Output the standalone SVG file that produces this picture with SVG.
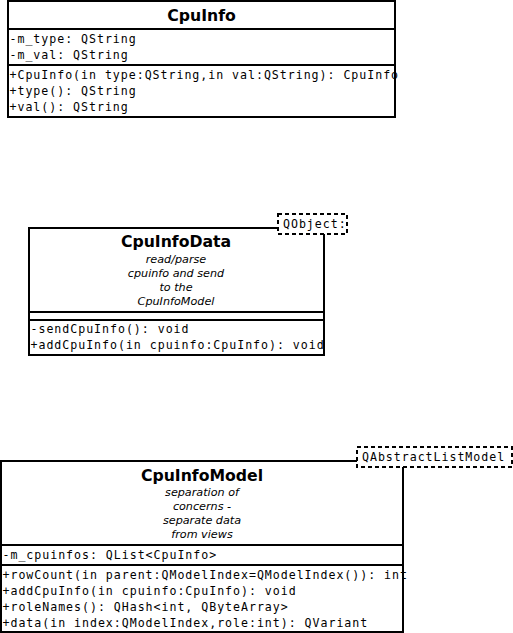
<svg xmlns="http://www.w3.org/2000/svg" width="513" height="633" viewBox="0 0 513 633">
<style>
.box{fill:#fff;stroke:#000;stroke-width:2}
.div{stroke:#000;stroke-width:2;fill:none}
.tpl{fill:#fff;stroke:#000;stroke-width:2;stroke-dasharray:4,3}
.title{font-family:"DejaVu Sans",sans-serif;font-weight:bold;font-size:15.7px;text-anchor:middle;fill:#000}
.note{font-family:"DejaVu Sans",sans-serif;font-style:italic;font-size:11.2px;text-anchor:middle;fill:#000}
.mono{font-family:"DejaVu Sans Mono",monospace;font-size:11.6px;letter-spacing:0.97px;fill:#000}
</style>
<rect width="513" height="633" fill="#fff"/>
<g id="CpuInfo">
<rect class="box" x="8" y="1" width="387" height="116"/>
<line class="div" x1="8" y1="29" x2="395" y2="29"/>
<line class="div" x1="8" y1="65" x2="395" y2="65"/>
<text class="title" x="201.5" y="21">CpuInfo</text>
<text class="mono" x="9.5" y="42.5">-m_type: QString</text>
<text class="mono" x="9.5" y="58.5">-m_val: QString</text>
<text class="mono" x="9.5" y="78.5">+CpuInfo(in type:QString,in val:QString): CpuInfo</text>
<text class="mono" x="9.5" y="94.5">+type(): QString</text>
<text class="mono" x="9.5" y="110.5">+val(): QString</text>
</g>
<g id="CpuInfoData">
<rect class="box" x="29" y="228" width="295" height="127"/>
<line class="div" x1="29" y1="312" x2="324" y2="312"/>
<line class="div" x1="29" y1="320" x2="324" y2="320"/>
<text class="title" x="176" y="247">CpuInfoData</text>
<text class="note" x="176" y="263">read/parse</text>
<text class="note" x="176" y="277">cpuinfo and send</text>
<text class="note" x="176" y="291">to the</text>
<text class="note" x="176" y="305">CpuInfoModel</text>
<text class="mono" x="30.5" y="332.5">-sendCpuInfo(): void</text>
<text class="mono" x="30.5" y="348.5">+addCpuInfo(in cpuinfo:CpuInfo): void</text>
<rect class="tpl" x="278" y="214" width="69" height="20"/>
<text class="mono" x="283" y="227.5">QObject:</text>
</g>
<g id="CpuInfoModel">
<rect class="box" x="1" y="461" width="402" height="171"/>
<line class="div" x1="1" y1="545" x2="403" y2="545"/>
<line class="div" x1="1" y1="565" x2="403" y2="565"/>
<text class="title" x="202" y="480.5">CpuInfoModel</text>
<text class="note" x="202" y="496">separation of</text>
<text class="note" x="202" y="510">concerns -</text>
<text class="note" x="202" y="524">separate data</text>
<text class="note" x="202" y="538">from views</text>
<text class="mono" x="2.5" y="558.5">-m_cpuinfos: QList&lt;CpuInfo&gt;</text>
<text class="mono" x="2.5" y="578.5">+rowCount(in parent:QModelIndex=QModelIndex()): int</text>
<text class="mono" x="2.5" y="594.5">+addCpuInfo(in cpuinfo:CpuInfo): void</text>
<text class="mono" x="2.5" y="610.5">+roleNames(): QHash&lt;int, QByteArray&gt;</text>
<text class="mono" x="2.5" y="626.5">+data(in index:QModelIndex,role:int): QVariant</text>
<rect class="tpl" x="357" y="447" width="155" height="20"/>
<text class="mono" x="362" y="460.5">QAbstractListModel</text>
</g>
<g id="connectors"></g>
</svg>
